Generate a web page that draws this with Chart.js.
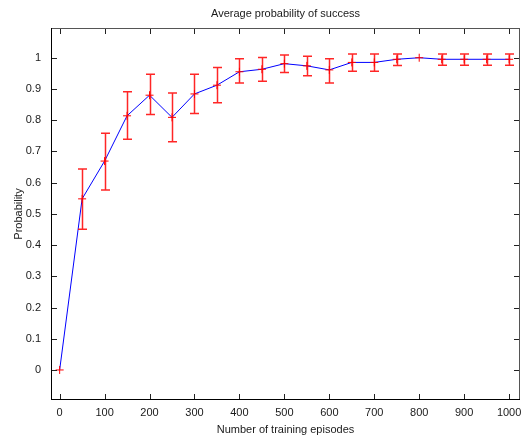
<!DOCTYPE html>
<html lang="en">
<head>
  <meta charset="UTF-8" />
  <title>Average probability of success</title>
  <script src="https://cdn.jsdelivr.net/npm/chart.js"></script>
  <style>
    body {
      margin: 0;
      background: #fff;
    }
    #successChart {
      display: block;
    }
  </style>
</head>
<body>
  <canvas id="successChart" width="524" height="441"></canvas>

  <script>
    // values
    const episodes = [0, 50, 100, 150, 200, 250, 300, 350, 400, 450, 500, 550, 600, 650, 700, 750, 800, 850, 900, 950, 1000];
    const meanProb = [0, 0.548, 0.669, 0.814, 0.880, 0.809, 0.884, 0.912, 0.955, 0.963, 0.981, 0.974, 0.961, 0.985, 0.985, 0.995, 1.0, 0.995, 0.995, 0.995, 0.995];
    const lowerErr = [null, 0.451, 0.576, 0.739, 0.818, 0.731, 0.821, 0.856, 0.919, 0.925, 0.953, 0.942, 0.919, 0.957, 0.957, 0.975, null, 0.976, 0.976, 0.976, 0.976];
    const upperErr = [null, 0.644, 0.758, 0.891, 0.947, 0.887, 0.947, 0.969, 0.997, 1.001, 1.009, 1.005, 0.997, 1.012, 1.012, 1.012, null, 1.012, 1.012, 1.012, 1.012];

    const xTicks = [0, 100, 200, 300, 400, 500, 600, 700, 800, 900, 1000];
    const yTicks = [0, 0.1, 0.2, 0.3, 0.4, 0.5, 0.6, 0.7, 0.8, 0.9, 1];

    const font = { family: "'Liberation Sans', Arial, sans-serif", size: 11 };
    const textColor = '#1a1a1a';

    // red error bars with caps
    const errorBars = {
      id: 'errorBars',
      afterDatasetsDraw(chart) {
        const { ctx, scales: { x, y } } = chart;
        ctx.save();
        ctx.strokeStyle = 'rgba(255, 0, 0, 0.85)';
        ctx.lineWidth = 1.5;
        episodes.forEach((ep, i) => {
          if (lowerErr[i] == null) return;
          const px = Math.round(x.getPixelForValue(ep)) + 0.5;
          const lo = y.getPixelForValue(lowerErr[i]);
          const hi = y.getPixelForValue(upperErr[i]);
          ctx.beginPath();
          ctx.moveTo(px, lo);
          ctx.lineTo(px, hi);
          ctx.moveTo(px - 4.5, lo);
          ctx.lineTo(px + 4.5, lo);
          ctx.moveTo(px - 4.5, hi);
          ctx.lineTo(px + 4.5, hi);
          ctx.stroke();
        });
        ctx.restore();
      }
    };

    // box around the plot with inward ticks on all sides
    const frameTicks = {
      id: 'frameTicks',
      afterDraw(chart) {
        const { ctx, chartArea: a, scales: { x, y } } = chart;
        const len = 5;
        ctx.save();
        ctx.lineWidth = 1;

        ctx.strokeStyle = '#555';
        ctx.beginPath();
        ctx.moveTo(a.left - 1, a.top - 0.5);
        ctx.lineTo(a.right + 1, a.top - 0.5);
        ctx.moveTo(a.right + 0.5, a.top - 1);
        ctx.lineTo(a.right + 0.5, a.bottom + 1);
        ctx.stroke();

        ctx.strokeStyle = '#000';
        ctx.beginPath();
        ctx.moveTo(a.left - 0.5, a.top - 1);
        ctx.lineTo(a.left - 0.5, a.bottom + 1);
        ctx.moveTo(a.left - 1, a.bottom + 0.5);
        ctx.lineTo(a.right + 1, a.bottom + 0.5);
        ctx.stroke();

        ctx.strokeStyle = '#222';
        ctx.beginPath();
        xTicks.forEach(v => {
          const px = Math.round(x.getPixelForValue(v)) + 0.5;
          ctx.moveTo(px, a.bottom);
          ctx.lineTo(px, a.bottom - len);
          ctx.moveTo(px, a.top);
          ctx.lineTo(px, a.top + len);
        });
        yTicks.forEach(v => {
          const py = Math.round(y.getPixelForValue(v)) + 0.5;
          ctx.moveTo(a.left, py);
          ctx.lineTo(a.left + len, py);
          ctx.moveTo(a.right, py);
          ctx.lineTo(a.right - len, py);
        });
        ctx.stroke();
        ctx.restore();
      }
    };

    const ctx = document.getElementById('successChart').getContext('2d');

    new Chart(ctx, {
      type: 'line',
      data: {
        datasets: [{
          label: 'Average probability of success',
          data: episodes.map((ep, i) => ({ x: ep, y: meanProb[i] })),
          borderColor: '#0000ff',
          borderWidth: 1,
          fill: false,
          tension: 0,
          pointStyle: 'cross',
          pointRadius: 4,
          pointBorderColor: '#ff0000',
          pointBorderWidth: 1,
          pointBackgroundColor: '#ff0000'
        }]
      },
      options: {
        responsive: false,
        animation: false,
        layout: {
          padding: { left: 0, right: 3, top: 0, bottom: 0 }
        },
        plugins: {
          legend: { display: false },
          tooltip: { enabled: false },
          title: {
            display: true,
            text: 'Average probability of success',
            fullSize: false,
            color: textColor,
            font: { ...font, weight: 'normal' },
            padding: { top: 7, bottom: 8.8 }
          }
        },
        scales: {
          x: {
            type: 'linear',
            min: -17,
            max: 1022,
            grid: { display: false, drawTicks: false },
            border: { display: false },
            afterBuildTicks: scale => {
              scale.ticks = xTicks.map(v => ({ value: v }));
            },
            afterFit: scale => {
              scale.height = 42;
              scale.paddingLeft = 0;
              scale.paddingRight = 0;
            },
            ticks: {
              color: textColor,
              font: font,
              padding: 7,
              maxRotation: 0,
              autoSkip: false,
              callback: v => String(v)
            },
            title: {
              display: true,
              text: 'Number of training episodes',
              color: textColor,
              font: font,
              padding: { top: 0, bottom: 4 }
            }
          },
          y: {
            min: -0.093,
            max: 1.092,
            grid: { display: false, drawTicks: false },
            border: { display: false },
            afterBuildTicks: scale => {
              scale.ticks = yTicks.map(v => ({ value: v }));
            },
            afterFit: scale => {
              scale.width = 52;
              scale.paddingTop = 0;
              scale.paddingBottom = 0;
            },
            ticks: {
              color: textColor,
              font: font,
              padding: 11,
              callback: v => String(v)
            },
            title: {
              display: true,
              text: 'Probability',
              color: textColor,
              font: font,
              padding: { top: 12, bottom: 0 }
            }
          }
        }
      },
      plugins: [errorBars, frameTicks]
    });
  </script>
</body>
</html>
